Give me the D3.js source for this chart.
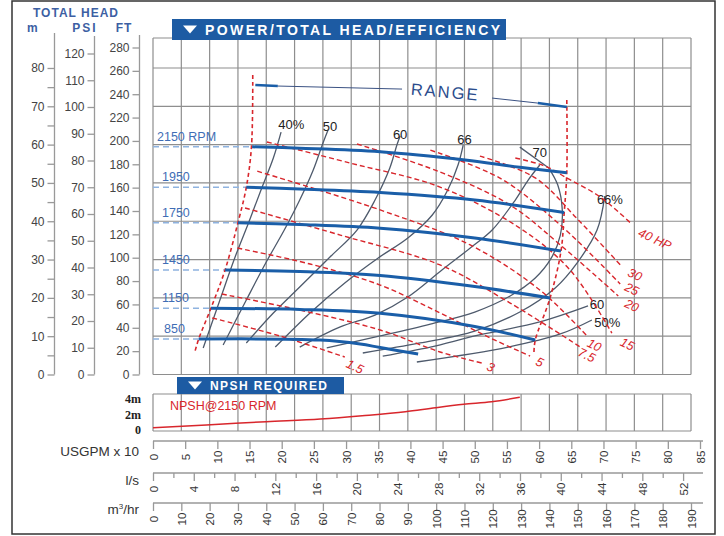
<!DOCTYPE html>
<html>
<head>
<meta charset="utf-8">
<script src="https://cdn.jsdelivr.net/npm/d3@7"></script>
<style>
  body { margin: 0; background: #fff; }
  svg { font-family: "Liberation Sans", Arial, sans-serif; }
</style>
</head>
<body>
<svg id="chart" width="724" height="536"></svg>
<script>
// flow in USGPM x 10, head in ft
const rpmNames = ["2150 RPM", "1950", "1750", "1450", "1150", "850"]
const rpm2150 = [[15.4,195.0],[22.8,193.8],[35.3,190.8],[48.5,183.7],[57.0,177.5],[64.3,172.8]]
const rpm1950 = [[14.5,160.3],[22.8,158.8],[35.3,155.8],[50.0,149.4],[63.9,138.7]]
const rpm1750 = [[13.2,130.0],[22.8,128.4],[35.3,125.2],[50.0,116.9],[63.4,105.7]]
const rpm1450 = [[11.2,89.5],[22.8,88.2],[35.3,84.8],[50.0,75.3],[61.7,65.5]]
const rpm1150 = [[9.0,56.7],[22.8,55.7],[35.3,52.4],[50.0,41.1],[59.4,29.5]]
const rpm850 = [[7.1,30.4],[26.0,29.5],[32.2,26.1],[35.3,23.1],[41.2,17.6]]

const rangeLeft = [[15.5,256.4],[15.3,195.0],[14.5,160.3],[13.2,130.0],[11.2,89.5],[9.0,56.7],[7.1,30.4],[6.5,19.3]]
const rangeRight = [[64.3,235.0],[64.3,172.8],[63.9,138.7],[63.4,105.7],[61.7,65.5],[59.4,29.5],[59.2,19.3]]
const rangeThick = [[[15.9,247.9],[19.4,247.0]], [[59.8,232.4],[64.3,229.0]]]
const rangeThin = [[[19.4,247.0],[38.7,244.4]], [[52.7,236.7],[59.8,232.4]]]

// efficiency lines
const eff40L = [[7.8,22.7],[10.4,63.8],[12.7,99.8],[14.9,130.6],[16.9,159.7],[18.7,185.4],[19.9,207.6]]
const eff50L = [[10.9,25.3],[14.5,63.8],[17.6,96.3],[20.4,123.7],[22.8,149.4],[24.9,175.1],[26.3,196.5],[27.2,209.3]]
const eff60L = [[14.5,27.0],[18.7,52.6],[22.8,74.9],[27.5,100.6],[31.7,123.7],[34.5,149.4],[36.8,176.9],[37.9,196.5],[38.4,204.2]]
const eff66L = [[19.0,23.5],[24.4,52.7],[29.8,78.4],[35.0,99.8],[39.6,116.9],[43.4,136.6],[45.8,158.0],[47.4,179.4],[48.2,196.5]]
const eff70L = [[22.8,23.5],[29.1,40.7],[34.5,50.9],[39.6,66.4],[44.9,89.5],[49.3,108.3],[52.7,123.7],[56.3,149.4],[58.3,166.5],[60.1,179.4]]
const eff70R = [[27.0,22.7],[35.3,33.0],[43.1,43.2],[50.0,53.5],[55.5,67.2],[59.4,82.6],[61.9,99.8],[63.3,119.4],[63.6,140.9],[62.9,162.3],[61.5,176.8]]
const eff70Lead = [[57.0,194.7],[61.5,176.8]]
const eff66R = [[32.6,18.4],[41.5,27.0],[50.0,37.2],[57.0,53.5],[62.5,74.1],[66.0,96.3],[69.0,123.7],[70.2,152.8]]
const eff60R = [[35.7,15.8],[43.1,23.5],[50.0,33.0],[60.1,45.0],[67.6,58.7]]
const eff50R = [[41.0,10.7],[55.2,23.5],[63.3,34.7],[68.2,46.7]]
const effNames = ["40%", "50", "60", "66", "70", "66%", "60", "50%"]
const effLabelAt = [[21.5,214.1],[27.5,212.3],[38.4,205.9],[48.4,201.2],[60.1,189.9],[71.0,150.3],[69.0,60.4],[70.6,44.5]]

// power lines, HP
const hpNames = ["1.5", "3", "5", "7.5", "10", "15", "20", "25", "30", "40 HP"]
const hp1_5 = [[9.2,48.4],[19.7,33.0],[29.8,15.0]]
const hp3 = [[10.7,68.9],[22.8,55.2],[35.3,38.1],[44.6,19.3],[51.1,9.8]]
const hp5 = [[13.1,108.3],[24.4,94.6],[35.3,76.6],[44.6,52.7],[52.4,31.3],[58.6,15.8]]
const hp7_5 = [[14.3,142.6],[29.1,119.4],[44.6,93.8],[55.5,61.2],[66.4,23.5]]
const hp10 = [[16.2,174.1],[35.3,140.9],[49.3,110.9],[60.1,72.4],[67.6,32.1]]
const hp15 = [[17.7,199.1],[30.6,181.1],[44.6,160.5],[57.0,125.4],[64.8,89.5],[71.3,35.5]]
const hp20 = [[31.7,197.4],[44.6,173.4],[55.5,145.1],[63.3,110.9],[72.3,67.2]]
const hp25 = [[43.1,192.1],[53.9,168.2],[63.3,128.0],[72.6,77.5]]
const hp30 = [[50.8,187.0],[59.4,168.3],[66.1,132.3],[72.9,92.1]]
const hp40 = [[56.3,185.4],[60.9,178.5],[64.3,168.3],[69.5,152.0],[74.4,128.8]]
const hpLabelAt = [[31.4,6.8],[52.5,6.4],[60.1,10.7],[67.4,16.7],[68.6,25.3],[73.7,26.1],[74.4,59.1],[74.4,73.2],[74.9,85.6],[78.0,116.0]]

// NPSH at 2150 rpm, metres
const npsh = [[0,0.43],[8.3,0.78],[17.6,1.21],[26.0,1.56],[32.5,1.98],[39.2,2.5],[43.9,3.02],[48.3,3.46],[52.6,3.8],[57.0,4.37]]

const usgpmTicks = d3.range(0, 86, 5)
const lsTicks = d3.range(0, 53, 4)
const m3Ticks = d3.range(0, 191, 10)
const mTicks = d3.range(0, 81, 10)
const psiTicks = d3.range(0, 121, 10)
const ftTicks = d3.range(0, 281, 20)

const blue = "#1a5ea8", red = "#d8262c", grey = "#4e5a6c", gridc = "#8e8e8e"

const svg = d3.select("#chart")
const x = d3.scaleLinear().domain([0, 85]).range([153, 700])
const xM3 = d3.scaleLinear().domain([0, 190]).range([153, 691])
const xLs = d3.scaleLinear().domain([0, 52]).range([153, 683.1])
const yFt = d3.scaleLinear().domain([0, 280]).range([374.5, 47.5])
const yM = d3.scaleLinear().domain([0, 280 / 3.2808]).range([374.5, 47.5])
const yPsi = d3.scaleLinear().domain([0, 120]).range([374.5, 53.5])
const yN = d3.scaleLinear().domain([0, 4.8]).range([431, 394])
const gridTop = 38

svg.append("rect").attr("x", 12).attr("y", 1).attr("width", 703).attr("height", 533)
    .attr("fill", "#fff").attr("stroke", "#333").attr("stroke-width", 1.5)

// main grid
const grid = svg.append("g").attr("stroke", gridc).attr("stroke-width", 1.2)
grid.selectAll(".v").data(m3Ticks).join("line")
    .attr("x1", d => xM3(d)).attr("x2", d => xM3(d)).attr("y1", gridTop).attr("y2", yM(0))
grid.selectAll(".h").data(mTicks).join("line")
    .attr("x1", xM3(0)).attr("x2", xM3(190)).attr("y1", d => yM(d)).attr("y2", d => yM(d))
grid.append("line").attr("x1", xM3(0)).attr("x2", xM3(190)).attr("y1", gridTop).attr("y2", gridTop)

// NPSH grid
const ng = svg.append("g").attr("stroke", gridc).attr("stroke-width", 1.2)
ng.selectAll("line.v").data(m3Ticks).join("line")
    .attr("x1", d => xM3(d)).attr("x2", d => xM3(d)).attr("y1", yN(4.8)).attr("y2", yN(0))
ng.append("line").attr("x1", xM3(0)).attr("x2", xM3(190)).attr("y1", yN(4.8)).attr("y2", yN(4.8))
ng.append("line").attr("x1", xM3(0)).attr("x2", xM3(190)).attr("y1", yN(0)).attr("y2", yN(0))

// left axes
function leftAxis(scale, xpos, ticks, minor, top) {
    const g = svg.append("g").attr("transform", `translate(${xpos},0)`)
    g.call(d3.axisLeft(scale).tickValues(ticks).tickSize(7).tickPadding(3).tickSizeOuter(0))
    g.select(".domain").remove()
    g.append("line").attr("y1", top).attr("y2", scale(0)).attr("stroke", "#999").attr("stroke-width", 1.5)
    if (minor) {
        g.append("g").call(d3.axisLeft(scale).tickValues(minor).tickSize(7).tickFormat("").tickSizeOuter(0))
            .select(".domain").remove()
    }
    g.selectAll("line").attr("stroke", "#999").attr("stroke-width", 1.3)
    g.selectAll("text").attr("fill", "#444").style("font-size", "12px").style("font-family", "Liberation Sans, Arial")
}
leftAxis(yM, 54.5, mTicks, d3.range(5, 80, 10), 33)
leftAxis(yPsi, 94.5, psiTicks, null, 36)
leftAxis(yFt, 139.5, ftTicks, null, 35)

const hdr = svg.append("g").attr("fill", "#3d5fa3").style("font-weight", "bold").style("font-size", "12px")
hdr.append("text").attr("x", 33).attr("y", 17).attr("letter-spacing", 1).text("TOTAL HEAD")
hdr.append("text").attr("x", 27).attr("y", 32).text("m")
hdr.append("text").attr("x", 85).attr("y", 32).attr("text-anchor", "middle").attr("letter-spacing", 2).text("PSI")
hdr.append("text").attr("x", 124).attr("y", 32).attr("text-anchor", "middle").attr("letter-spacing", 1).text("FT")

// bottom axes
function bottomAxis(scale, ypos, ticks, minor) {
    const g = svg.append("g").attr("transform", `translate(0,${ypos})`)
    g.call(d3.axisBottom(scale).tickValues(ticks).tickSize(8).tickSizeOuter(0))
    g.select(".domain").remove()
    g.append("line").attr("x1", 153).attr("x2", 703).attr("stroke", "#999").attr("stroke-width", 1.5)
    if (minor) {
        g.append("g").call(d3.axisBottom(scale).tickValues(minor).tickSize(5).tickFormat("").tickSizeOuter(0))
            .select(".domain").remove()
    }
    g.selectAll("line").attr("stroke", "#999").attr("stroke-width", 1.3)
    g.selectAll("text").attr("x", 0).attr("y", 0).attr("dy", "0.35em")
        .attr("transform", "translate(0,16) rotate(-90)").style("text-anchor", "middle")
        .attr("fill", "#333").style("font-size", "11.5px").style("font-family", "Liberation Sans, Arial")
}
bottomAxis(x, 441, usgpmTicks, null)
bottomAxis(xLs, 473, lsTicks, d3.range(2, 53, 4))
bottomAxis(xM3, 503, m3Ticks, null)

const ax = svg.append("g").attr("fill", "#333").style("font-size", "13.5px").attr("text-anchor", "end")
ax.append("text").attr("x", 139).attr("y", 456).text("USGPM x 10")
ax.append("text").attr("x", 139).attr("y", 485).text("l/s")
const m3t = ax.append("text").attr("x", 139).attr("y", 514)
m3t.append("tspan").text("m")
m3t.append("tspan").attr("dy", -5).style("font-size", "8px").text("3")
m3t.append("tspan").attr("dy", 5).text("/hr")

// banners
function banner(x0, y0, w, h, label, tx, tw, fs) {
    svg.append("rect").attr("x", x0).attr("y", y0).attr("width", w).attr("height", h).attr("fill", "#1d5ba3")
    const cy = y0 + h / 2
    svg.append("path").attr("d", `M${x0 + 11},${cy - 4}L${x0 + 25},${cy - 4}L${x0 + 18},${cy + 4}Z`).attr("fill", "#fff")
    svg.append("text").attr("x", tx).attr("y", cy).attr("dy", "0.36em").attr("fill", "#fff")
        .attr("textLength", tw).attr("lengthAdjust", "spacing")
        .style("font-weight", "bold").style("font-size", fs + "px").text(label)
}
banner(172, 19, 334, 21, "POWER/TOTAL HEAD/EFFICIENCY", 205, 295, 14)
banner(177, 377, 167, 17, "NPSH REQUIRED", 210, 117, 12)

const line = d3.line().x(d => x(d[0])).y(d => yFt(d[1])).curve(d3.curveCatmullRom.alpha(0.5))

// rpm reference lines
const rpmCurves = [rpm2150, rpm1950, rpm1750, rpm1450, rpm1150, rpm850]
svg.append("g").selectAll("line").data(rpmCurves).join("line")
    .attr("x1", x(0)).attr("x2", d => x(d[0][0])).attr("y1", d => yFt(d[0][1])).attr("y2", d => yFt(d[0][1]))
    .attr("stroke", "#8fb3e0").attr("stroke-width", 1.5).attr("stroke-dasharray", "6,4")
svg.append("g").selectAll("text").data(rpmCurves).join("text")
    .attr("x", (d, i) => i == 0 ? 157 : i == 5 ? 164 : 162).attr("y", d => yFt(d[0][1]) - 6)
    .attr("fill", "#3f6db5").style("font-size", "12.5px").text((d, i) => rpmNames[i])

// efficiency
const effCurves = [eff40L, eff50L, eff60L, eff66L, eff70L, eff70R, eff70Lead, eff66R, eff60R, eff50R]
svg.append("g").selectAll("path").data(effCurves).join("path")
    .attr("d", line).attr("fill", "none").attr("stroke", grey).attr("stroke-width", 1.3)
svg.append("g").selectAll("text").data(effLabelAt).join("text")
    .attr("x", d => x(d[0])).attr("y", d => yFt(d[1])).attr("dy", "0.35em").attr("text-anchor", "middle")
    .attr("fill", "#222").style("font-size", "13px").text((d, i) => effNames[i])

// power
const hpCurves = [hp1_5, hp3, hp5, hp7_5, hp10, hp15, hp20, hp25, hp30, hp40]
svg.append("g").selectAll("path").data(hpCurves).join("path")
    .attr("d", line).attr("fill", "none").attr("stroke", red).attr("stroke-width", 1.4).attr("stroke-dasharray", "5,3")
svg.append("g").selectAll("text").data(hpLabelAt).join("text")
    .attr("transform", d => `translate(${x(d[0])},${yFt(d[1])}) rotate(25)`)
    .attr("dy", "0.35em").attr("text-anchor", "middle").attr("fill", red)
    .style("font-size", "12.5px").style("font-style", "italic").text((d, i) => hpNames[i])

// range
svg.append("g").selectAll("path").data([rangeLeft, rangeRight]).join("path")
    .attr("d", line).attr("fill", "none").attr("stroke", red).attr("stroke-width", 1.6).attr("stroke-dasharray", "4,3")
svg.append("g").selectAll("path").data(rangeThin).join("path")
    .attr("d", d3.line().x(d => x(d[0])).y(d => yFt(d[1]))).attr("stroke", "#3b5283").attr("stroke-width", 1)
svg.append("g").selectAll("path").data(rangeThick).join("path")
    .attr("d", d3.line().x(d => x(d[0])).y(d => yFt(d[1]))).attr("stroke", blue).attr("stroke-width", 2.5)
svg.append("text").attr("transform", `translate(${x(45.4)},${yFt(242)}) rotate(5)`)
    .attr("text-anchor", "middle").attr("dy", "0.35em").attr("fill", "#2b4c8c")
    .attr("letter-spacing", 2).style("font-size", "16.5px").text("RANGE")

// pump curves
svg.append("g").selectAll("path").data(rpmCurves).join("path")
    .attr("d", line).attr("fill", "none").attr("stroke", blue).attr("stroke-width", 3)

// NPSH
svg.append("path").datum(npsh)
    .attr("d", d3.line().x(d => x(d[0])).y(d => yN(d[1])).curve(d3.curveMonotoneX))
    .attr("fill", "none").attr("stroke", red).attr("stroke-width", 1.5)
svg.append("text").attr("x", 170).attr("y", 410).attr("fill", red).style("font-size", "12.5px").text("NPSH@2150 RPM")
const nl = svg.append("g").attr("fill", "#222").attr("text-anchor", "end")
    .style("font-family", "Liberation Serif, Times New Roman, serif").style("font-weight", "bold").style("font-size", "12px")
nl.selectAll("text").data([4, 2, 0]).join("text")
    .attr("x", 141).attr("y", d => yN(d) - 1).attr("dy", "0.35em").text(d => d ? d + "m" : "0")
</script>
</body>
</html>
